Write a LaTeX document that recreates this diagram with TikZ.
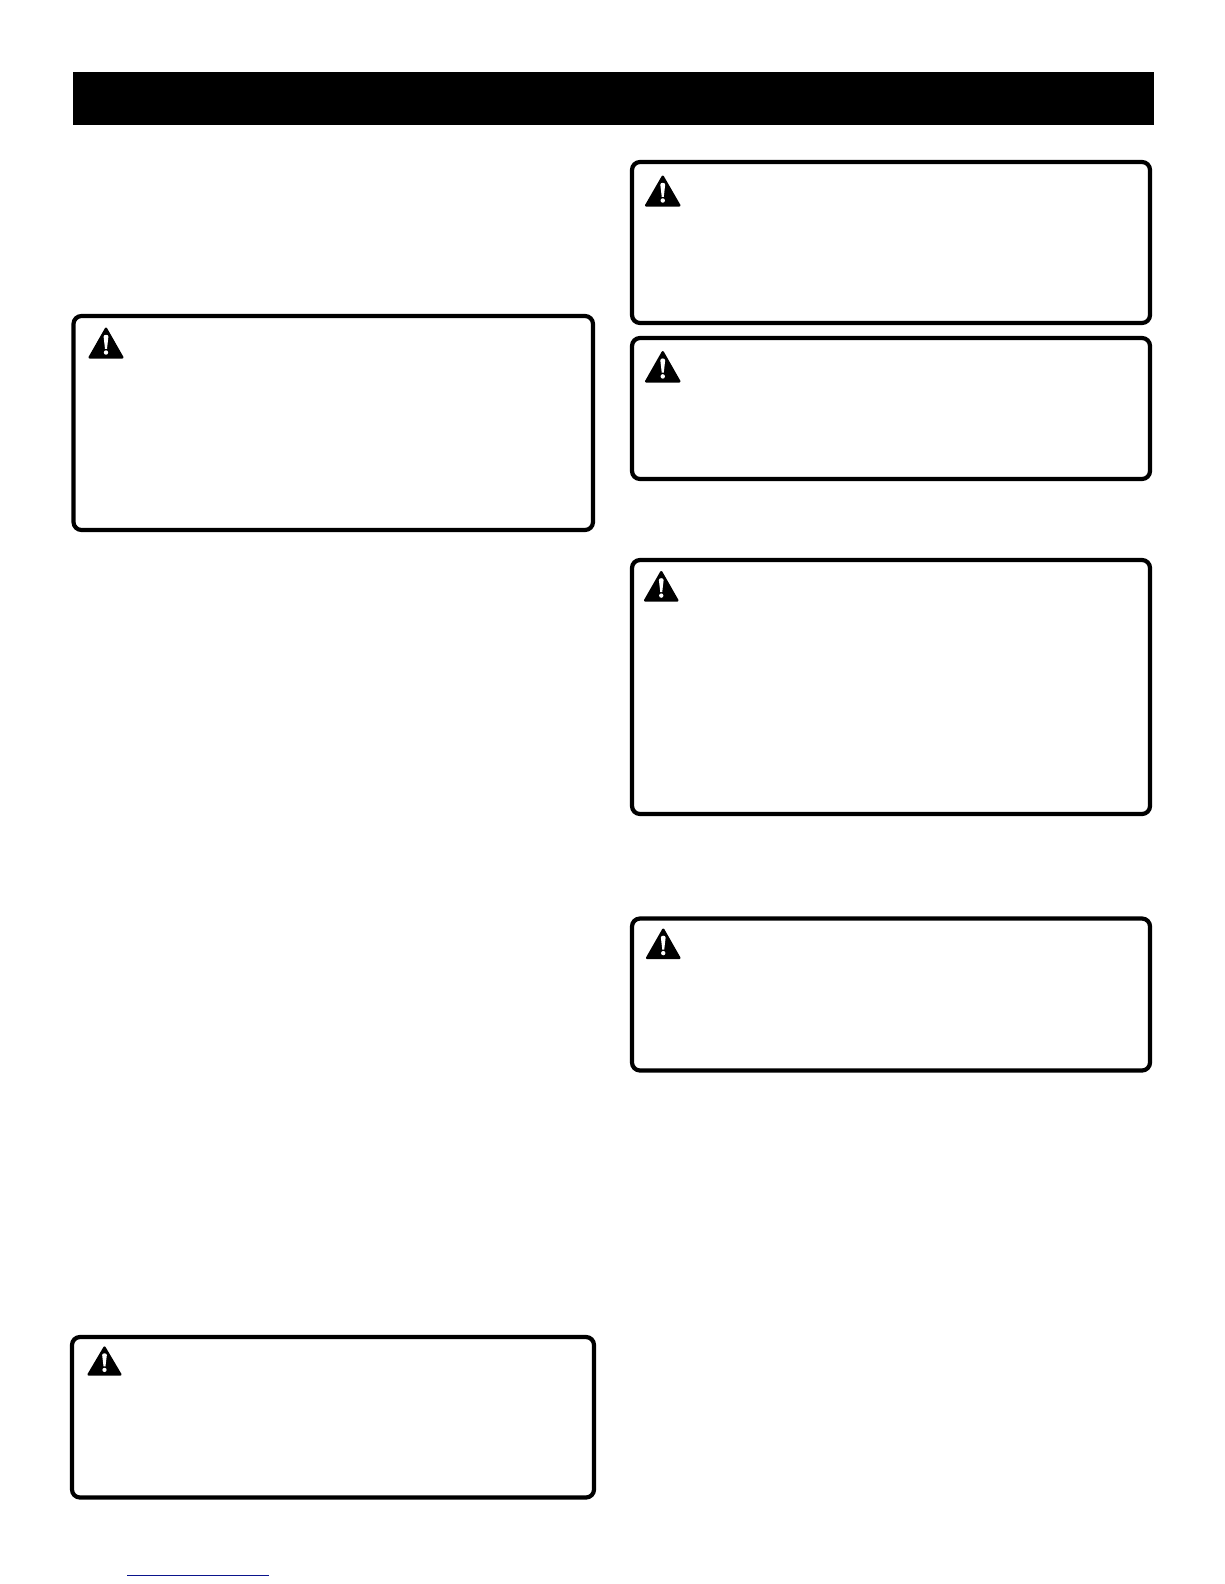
\documentclass[tikz,border=0pt]{standalone}
\definecolor{linkblue}{RGB}{10,20,140}
\tikzset{
  x=1pt,y=-1pt,
  panel/.style={draw=black,line width=4.2pt,rounded corners=8pt,fill=white},
  warnbody/.style={fill=black,draw=black,line width=2.4pt,line join=round},
  warnmark/.style={fill=white,draw=none}
}
% \warnbox{x0}{y0}{x1}{y1}: outer edges of the panel
\newcommand{\warnbox}[4]{\draw[panel] (#1+2,#2+2) rectangle (#3-2,#4-2);}
% \warnsign{left}{top}{width}{height}
\newcommand{\warnsign}[4]{%
  \begin{scope}[shift={(#1,#2)},xscale=#3/36,yscale=#4/32]
    \draw[warnbody] (18,2.2) -- (34.3,30.4) -- (1.7,30.4) -- cycle;
    \fill[warnmark] (15.6,10) .. controls (15.6,7.6) and (20.4,7.6) .. (20.4,10)
       -- (19,22) -- (17,22) -- cycle;
    \fill[warnmark] (18,25.6) circle[radius=2.2];
  \end{scope}}
\begin{document}
\begin{tikzpicture}
\useasboundingbox (0,0) rectangle (1224,1584);
\fill[white] (0,0) rectangle (1224,1584);
\fill[black] (72.5,72) rectangle (1154,125);
\warnbox{71.5}{314}{595}{532}
\warnbox{70}{1335}{596}{1499.5}
\warnbox{630}{160}{1152}{325}
\warnbox{630}{336}{1152}{481}
\warnbox{630}{558}{1152}{816}
\warnbox{630}{916.5}{1152}{1072.5}
\warnsign{88}{326.5}{36}{32.5}
\warnsign{87}{1345.5}{35}{30.5}
\warnsign{644.5}{174.5}{36.5}{32.5}
\warnsign{644.5}{350}{36.5}{33}
\warnsign{643.5}{570}{35.5}{32}
\warnsign{645.5}{927.5}{35.5}{32}
\draw[linkblue,line width=1pt] (127,1575) -- (269,1575);
\end{tikzpicture}
\end{document}
